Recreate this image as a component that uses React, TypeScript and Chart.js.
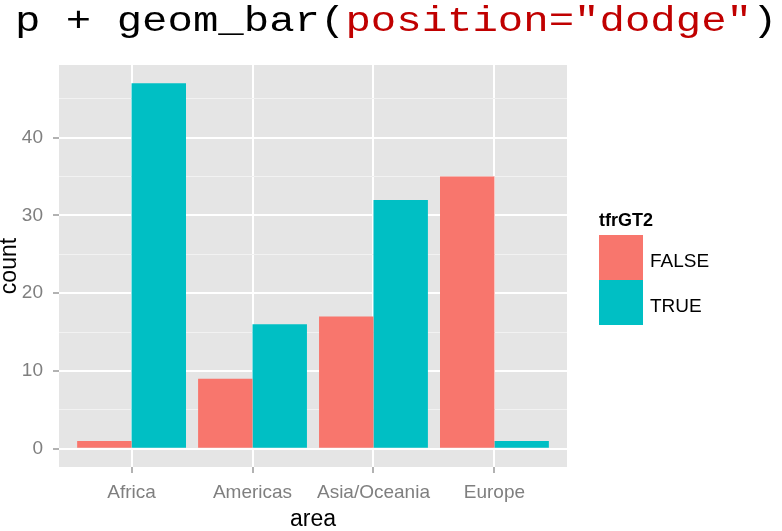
import { useEffect, useRef } from "react";
import { Chart, registerables } from "chart.js";

Chart.register(...registerables);

// Counts of countries per area, split by whether total fertility rate > 2
const areas = ["Africa", "Americas", "Asia/Oceania", "Europe"];
const falseCounts = [1, 9, 17, 35];
const trueCounts = [47, 16, 32, 1];
const seriesNames = ["FALSE", "TRUE"];
const seriesColors = ["#F8766D", "#00BFC4"];
const legendTitle = "tfrGT2";
const yMajorTicks = [0, 10, 20, 30, 40];
const yMinorTicks = [5, 15, 25, 35, 45];
const yLimits = [-2.35, 49.35];
const xLimits = [0.4, 4.6];

const SANS = "'Liberation Sans', Arial, sans-serif";
const TICK_GREY = "#7F7F7F";

// Grey ggplot-style panel behind the grid
const panelBackground = {
  id: "panelBackground",
  beforeDraw(chart: any) {
    const { ctx, chartArea: a } = chart;
    ctx.save();
    ctx.fillStyle = "#E5E5E5";
    ctx.fillRect(a.left, a.top, a.right - a.left, a.bottom - a.top);
    ctx.restore();
  },
};

// Fill legend with stacked square keys to the right of the panel
const fillLegend = {
  id: "fillLegend",
  afterDraw(chart: any) {
    const { ctx, chartArea: a } = chart;
    const x = a.right + 32;
    const keyTop = a.top + 170;
    const keyW = 44;
    const keyH = 45;
    ctx.save();
    ctx.textAlign = "left";
    ctx.textBaseline = "alphabetic";
    ctx.fillStyle = "#000000";
    ctx.font = `bold 18px ${SANS}`;
    ctx.fillText(legendTitle, x, a.top + 161);
    chart.data.datasets.forEach((ds: any, i: number) => {
      const y = keyTop + i * keyH;
      ctx.fillStyle = ds.backgroundColor;
      ctx.fillRect(x, y, keyW, keyH);
      ctx.fillStyle = "#000000";
      ctx.font = `19px ${SANS}`;
      ctx.fillText(ds.label, x + keyW + 7, y + 32);
    });
    ctx.restore();
  },
};

export default function App() {
  const canvasRef = useRef<HTMLCanvasElement | null>(null);

  useEffect(() => {
    if (!canvasRef.current) return;
    const series = [falseCounts, trueCounts];
    const chart = new Chart(canvasRef.current, {
      type: "bar",
      data: {
        datasets: series.map((vals, s) => ({
          label: seriesNames[s],
          data: areas.map((_, i) => ({ x: i + 1, y: vals[i] })),
          backgroundColor: seriesColors[s],
          borderWidth: 0,
          categoryPercentage: 0.9,
          barPercentage: 1,
        })),
      },
      options: {
        responsive: false,
        animation: false,
        layout: { padding: { left: 0, right: 215, top: 65, bottom: 0 } },
        plugins: {
          legend: { display: false },
          tooltip: { enabled: false },
          title: { display: false },
        },
        scales: {
          x: {
            type: "linear",
            min: xLimits[0],
            max: xLimits[1],
            offset: false,
            afterBuildTicks: (scale: any) => {
              scale.ticks = areas.map((_, i) => ({ value: i + 1 }));
            },
            afterFit: (scale: any) => {
              scale.height = 64;
            },
            ticks: {
              autoSkip: false,
              maxRotation: 0,
              color: TICK_GREY,
              padding: 8,
              font: { family: SANS, size: 19 },
              callback: (v: any) => areas[Number(v) - 1] ?? "",
            },
            grid: {
              offset: false,
              color: "#FFFFFF",
              lineWidth: 2,
              tickColor: TICK_GREY,
              tickLength: 6,
              tickWidth: 1.2,
            },
            border: { display: false },
            title: {
              display: true,
              text: "area",
              color: "#000000",
              font: { family: SANS, size: 23, lineHeight: 1 },
              padding: { top: 0, bottom: 0 },
            },
          },
          y: {
            type: "linear",
            min: yLimits[0],
            max: yLimits[1],
            afterBuildTicks: (scale: any) => {
              scale.ticks = [...yMajorTicks, ...yMinorTicks]
                .sort((p, q) => p - q)
                .map((v) => ({ value: v }));
            },
            afterFit: (scale: any) => {
              scale.width = 59;
            },
            ticks: {
              color: TICK_GREY,
              padding: 10,
              font: { family: SANS, size: 19 },
              callback: (v: any) => (yMajorTicks.includes(Number(v)) ? String(v) : ""),
            },
            grid: {
              color: (c: any) =>
                c.tick && yMajorTicks.includes(c.tick.value) ? "#FFFFFF" : "#F2F2F2",
              lineWidth: (c: any) =>
                c.tick && yMajorTicks.includes(c.tick.value) ? 2 : 1,
              tickColor: (c: any) =>
                c.tick && yMajorTicks.includes(c.tick.value) ? TICK_GREY : "rgba(0,0,0,0)",
              tickLength: 6,
              tickWidth: 1.2,
            },
            border: { display: false },
            title: {
              display: true,
              text: "count",
              color: "#000000",
              font: { family: SANS, size: 23, lineHeight: 1 },
              padding: { top: -2, bottom: 0 },
            },
          },
        },
      },
      plugins: [panelBackground, fillLegend],
    } as any);
    return () => chart.destroy();
  }, []);

  return (
    <div style={{ position: "absolute", left: 0, top: 0, width: 782, height: 531, background: "#FFFFFF" }}>
      <canvas ref={canvasRef} width={782} height={531} style={{ display: "block" }} />
      <div
        style={{
          position: "absolute",
          left: 15,
          top: 5,
          fontFamily: "'Liberation Mono', 'Courier New', monospace",
          fontSize: 35,
          lineHeight: "35px",
          whiteSpace: "pre",
          color: "#000000",
          transform: "scaleX(1.21)",
          transformOrigin: "left top",
        }}
      >
        p + geom_bar(<span style={{ color: "#C00000" }}>position="dodge"</span>)
      </div>
    </div>
  );
}
